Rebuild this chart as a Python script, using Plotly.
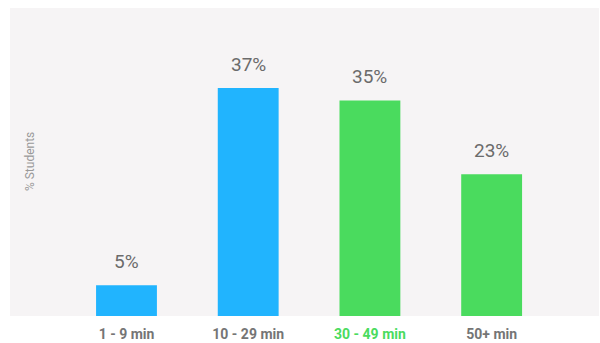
import plotly.graph_objects as go

categories = ["1 - 9 min", "10 - 29 min", "30 - 49 min", "50+ min"]
values = [5, 37, 35, 23]
bar_colors = ["#21B4FE", "#21B4FE", "#4ADB5E", "#4ADB5E"]
tick_colors = ["#757575", "#757575", "#4ADB5E", "#757575"]
value_labels = [f"{v}%" for v in values]

fig = go.Figure()
fig.add_trace(go.Bar(
    x=list(range(len(categories))),
    y=values,
    marker=dict(color=bar_colors, line=dict(width=0)),
    hoverinfo="skip",
))

for i, (v, lab) in enumerate(zip(values, value_labels)):
    fig.add_annotation(x=i, y=v, text=lab, showarrow=False, yanchor="bottom",
                       yshift=10, font=dict(family="Roboto", size=19, color="#6b6b6b"))

fig.add_annotation(xref="paper", yref="paper", x=0.034, y=0.5, text="% Students",
                   textangle=-90, showarrow=False, xanchor="center",
                   font=dict(family="Roboto", size=12, color="#9a9a9a"))

fig.update_layout(
    width=600, height=343,
    margin=dict(l=10, r=1, t=8, b=27, autoexpand=False),
    paper_bgcolor="white",
    plot_bgcolor="#F6F4F5",
    bargap=0.5,
    showlegend=False,
    font=dict(family="Roboto"),
)
fig.update_xaxes(
    range=[-0.957, 3.882],
    tickmode="array",
    tickvals=list(range(len(categories))),
    ticktext=[f"<b><span style='color:{c}'>{t}</span></b>" for t, c in zip(categories, tick_colors)],
    tickfont=dict(family="Roboto", size=14, color="#757575"),
    showgrid=False, zeroline=False, showline=False, ticks="",
    ticklabelstandoff=8, automargin=False,
)
fig.update_yaxes(range=[0, 50], showticklabels=False, showgrid=False, zeroline=False,
                 showline=False, ticks="", automargin=False)

fig.write_html("out.html")
